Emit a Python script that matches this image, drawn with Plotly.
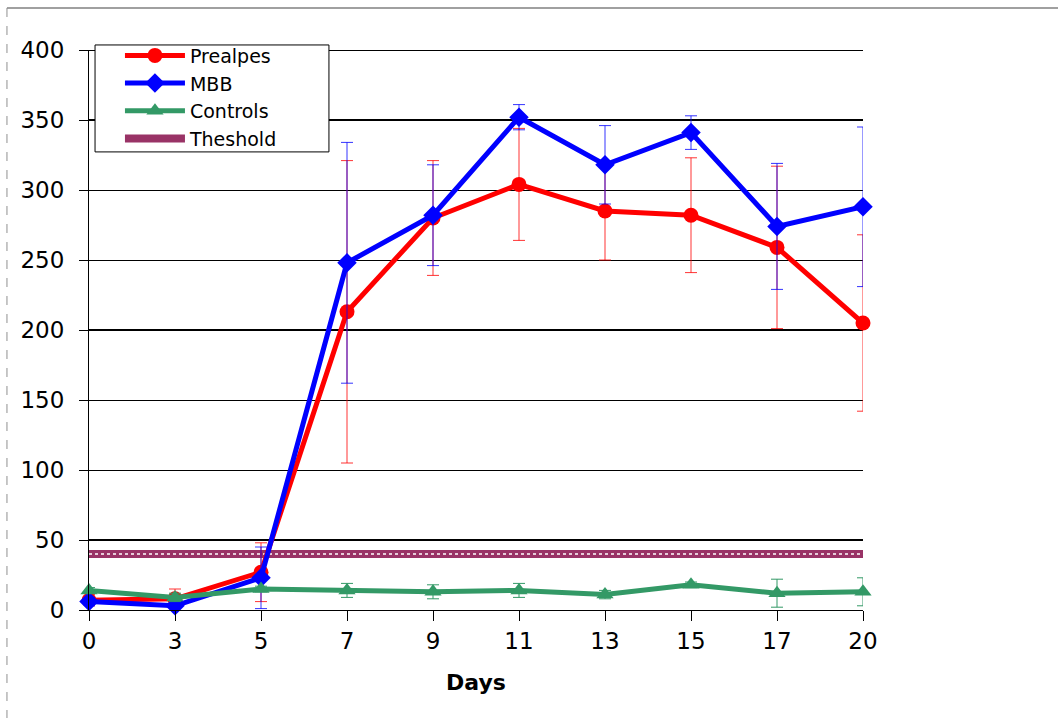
import plotly.graph_objects as go

# Sampling days (equally spaced categories on the x axis)
days = ["0", "3", "5", "7", "9", "11", "13", "15", "17", "20"]

# Mean values per group and their error half-widths
prealpes = [7, 8, 27, 213, 280, 304, 285, 282, 259, 205]
prealpes_err = [4, 7, 21, 108, 41, 40, 35, 41, 58, 63]

mbb = [6, 3, 23, 248, 282, 352, 318, 341, 274, 288]
mbb_err = [3, 4, 22, 86, 36, 9, 28, 12, 45, 57]

controls = [14, 9, 15, 14, 13, 14, 11, 18, 12, 13]
controls_err = [2, 3, 2, 5, 5, 5, 3, 2, 10, 10]

threshold = 40

y_ticks = [0, 50, 100, 150, 200, 250, 300, 350, 400]
thick_grid = [50, 200, 350, 400]

RED = "#FF0000"
BLUE = "#0000FF"
GREEN = "#339966"
MAROON = "#993366"
FONT = "DejaVu Sans, Arial, sans-serif"

fig = go.Figure()

# Threshold band (drawn first so the series sit above it)
thr = [threshold] * len(days)
fig.add_trace(go.Scatter(
    x=days, y=thr, mode="lines", name="Theshold",
    line=dict(color=MAROON, width=8), legendrank=4, cliponaxis=False,
))
fig.add_trace(go.Scatter(
    x=days, y=thr, mode="lines", showlegend=False, hoverinfo="skip",
    line=dict(color="white", width=1.5, dash="dot"), cliponaxis=False,
))

fig.add_trace(go.Scatter(
    x=days, y=prealpes, mode="lines+markers", name="Prealpes",
    line=dict(color=RED, width=5),
    marker=dict(symbol="circle", size=15, color=RED),
    error_y=dict(type="data", array=prealpes_err, visible=True,
                 color="rgba(255,0,0,0.8)", thickness=1, width=6),
    legendrank=1, cliponaxis=False,
))

fig.add_trace(go.Scatter(
    x=days, y=mbb, mode="lines+markers", name="MBB",
    line=dict(color=BLUE, width=5),
    marker=dict(symbol="diamond", size=15, color=BLUE),
    error_y=dict(type="data", array=mbb_err, visible=True,
                 color="rgba(0,0,255,0.8)", thickness=1, width=6),
    legendrank=2, cliponaxis=False,
))

fig.add_trace(go.Scatter(
    x=days, y=controls, mode="lines+markers", name="Controls",
    line=dict(color=GREEN, width=5),
    marker=dict(symbol="triangle-up", size=15, color=GREEN),
    error_y=dict(type="data", array=controls_err, visible=True,
                 color=GREEN, thickness=1, width=6),
    legendrank=3, cliponaxis=False,
))

# Heavier horizontal rules on some grid levels
shapes = [
    dict(type="line", xref="paper", yref="y", x0=0, x1=1, y0=v, y1=v,
         line=dict(color="black", width=2), layer="below")
    for v in thick_grid
]
# Legend frame
shapes.append(dict(type="rect", xref="paper", yref="paper",
                   x0=0.0078, x1=0.31, y0=0.818, y1=1.009,
                   fillcolor="white", line=dict(color="black", width=1)))
# Outer frame: top edge and dashed left edge
shapes.append(dict(type="line", xref="paper", yref="paper",
                   x0=-0.106, x1=1.3, y0=1.075, y1=1.075,
                   line=dict(color="#808080", width=1.5)))
shapes.append(dict(type="line", xref="paper", yref="paper",
                   x0=-0.106, x1=-0.106, y0=1.075, y1=-0.25,
                   line=dict(color="#909090", width=1, dash="dash")))

fig.update_layout(
    width=1058, height=718,
    margin=dict(l=89, r=195, t=50, b=108),
    paper_bgcolor="white", plot_bgcolor="white",
    font=dict(family=FONT, color="black", size=22),
    showlegend=True,
    legend=dict(
        x=0.04, y=1.024, xanchor="left", yanchor="top",
        bgcolor="rgba(0,0,0,0)", borderwidth=0,
        font=dict(family=FONT, size=19, color="black"),
        tracegroupgap=0, itemwidth=60,
    ),
    shapes=shapes,
    xaxis=dict(
        type="category", range=[0, len(days) - 1],
        showline=True, linecolor="black", linewidth=1,
        ticks="outside", ticklen=10, tickcolor="black",
        showgrid=False, zeroline=False,
        tickfont=dict(family=FONT, size=23, color="black"),
        title=dict(text="<b>Days</b>", font=dict(family=FONT, size=22, color="black"),
                   standoff=22),
    ),
    yaxis=dict(
        range=[0, 400], tickvals=y_ticks,
        showline=True, linecolor="black", linewidth=1,
        ticks="outside", ticklen=9, tickcolor="black",
        showgrid=True, gridcolor="black", gridwidth=1, zeroline=False,
        tickfont=dict(family=FONT, size=23, color="black"),
        ticklabelstandoff=10,
    ),
)

fig.write_html("out.html")
